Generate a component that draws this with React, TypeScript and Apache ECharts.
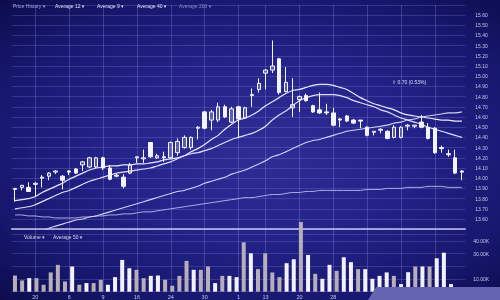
import React, { useEffect, useRef } from "react";
import * as echarts from "echarts";

// [open, close, low, high]
const candles: number[][] = [
  [13.89, 13.9, 13.77, 13.9],
  [13.91, 13.93, 13.88, 13.93],
  [13.91, 13.87, 13.87, 13.96],
  [13.94, 13.95, 13.82, 13.96],
  [14.0, 14.01, 13.91, 14.03],
  [14.02, 14.05, 13.98, 14.06],
  [14.06, 14.07, 14.04, 14.08],
  [14.02, 13.98, 13.89, 14.03],
  [14.07, 14.06, 14.03, 14.08],
  [14.09, 14.05, 14.04, 14.1],
  [14.13, 14.16, 14.07, 14.17],
  [14.11, 14.2, 14.1, 14.21],
  [14.11, 14.2, 14.1, 14.21],
  [14.2, 14.1, 14.08, 14.21],
  [14.1, 13.99, 13.98, 14.13],
  [14.03, 14.02, 14.01, 14.04],
  [14.01, 13.92, 13.9, 14.04],
  [14.05, 14.13, 14.04, 14.15],
  [14.2, 14.21, 14.15, 14.21],
  [14.19, 14.2, 14.15, 14.28],
  [14.35, 14.21, 14.2, 14.35],
  [14.2, 14.22, 14.19, 14.24],
  [14.21, 14.2, 14.16, 14.26],
  [14.2, 14.35, 14.19, 14.36],
  [14.25, 14.36, 14.22, 14.39],
  [14.3, 14.4, 14.29, 14.42],
  [14.3, 14.4, 14.28, 14.41],
  [14.49, 14.5, 14.38, 14.51],
  [14.65, 14.49, 14.48, 14.66],
  [14.57, 14.65, 14.47, 14.67],
  [14.57, 14.7, 14.55, 14.74],
  [14.7, 14.6, 14.59, 14.72],
  [14.55, 14.68, 14.54, 14.7],
  [14.7, 14.58, 14.4, 14.71],
  [14.59, 14.69, 14.58, 14.7],
  [14.81, 14.82, 14.7, 14.88],
  [14.87, 14.93, 14.84, 14.98],
  [15.03, 15.06, 14.87, 15.07],
  [15.06, 15.1, 15.03, 15.35],
  [15.17, 14.84, 14.82, 15.18],
  [14.85, 14.94, 14.84, 15.09],
  [14.69, 14.72, 14.6, 14.98],
  [14.77, 14.8, 14.65, 14.81],
  [14.81, 14.76, 14.75, 14.83],
  [14.71, 14.65, 14.64, 14.72],
  [14.67, 14.64, 14.63, 14.84],
  [14.65, 14.64, 14.62, 14.73],
  [14.64, 14.52, 14.51, 14.69],
  [14.58, 14.57, 14.5, 14.59],
  [14.61, 14.56, 14.55, 14.62],
  [14.57, 14.54, 14.53, 14.58],
  [14.57, 14.56, 14.49, 14.57],
  [14.5, 14.42, 14.41, 14.51],
  [14.45, 14.46, 14.42, 14.46],
  [14.47, 14.48, 14.44, 14.49],
  [14.46, 14.39, 14.38, 14.47],
  [14.4, 14.5, 14.39, 14.52],
  [14.4, 14.5, 14.39, 14.51],
  [14.51, 14.52, 14.47, 14.53],
  [14.51, 14.52, 14.49, 14.52],
  [14.55, 14.5, 14.49, 14.62],
  [14.5, 14.39, 14.38, 14.54],
  [14.49, 14.25, 14.24, 14.5],
  [14.3, 14.29, 14.25, 14.32],
  [14.24, 14.23, 14.21, 14.28],
  [14.2, 14.05, 14.04, 14.28],
  [14.07, 14.06, 13.98, 14.08],
];

const average9 = [
  13.78, 13.79, 13.8, 13.82, 13.86, 13.89, 13.92, 13.95, 13.99, 14.02,
  14.05, 14.08, 14.1, 14.11, 14.12, 14.12, 14.13, 14.13, 14.14, 14.14,
  14.15, 14.16, 14.18, 14.19, 14.2, 14.22, 14.26, 14.29, 14.33, 14.38,
  14.42, 14.48, 14.53, 14.57, 14.59, 14.62, 14.66, 14.71, 14.75, 14.79,
  14.83, 14.86, 14.87, 14.89, 14.91, 14.92, 14.92, 14.91, 14.89, 14.87,
  14.83, 14.79, 14.76, 14.73, 14.71, 14.69, 14.67, 14.64, 14.62, 14.61,
  14.6, 14.59, 14.58, 14.57, 14.57, 14.56, 14.56,
];

const average12 = [
  13.7, 13.71, 13.72, 13.74, 13.77, 13.8, 13.83, 13.86, 13.88, 13.91,
  13.94, 13.97, 13.99, 14.01, 14.03, 14.05, 14.06, 14.07, 14.08, 14.09,
  14.1, 14.12, 14.14, 14.16, 14.19, 14.22, 14.24, 14.25, 14.27, 14.29,
  14.32, 14.35, 14.38, 14.4, 14.42, 14.44, 14.47, 14.51, 14.57, 14.62,
  14.66, 14.71, 14.76, 14.79, 14.81, 14.82, 14.82, 14.82, 14.81, 14.79,
  14.76, 14.74, 14.72, 14.7, 14.67, 14.65, 14.62, 14.59, 14.57, 14.55,
  14.53, 14.5, 14.48, 14.46, 14.44, 14.42, 14.4,
];

const average40 = [
  null, null, null, null, 13.48, 13.51, 13.53, 13.55, 13.57, 13.59,
  13.6, 13.62, 13.63, 13.65, 13.67, 13.69, 13.71, 13.73, 13.75, 13.77,
  13.79, 13.81, 13.83, 13.85, 13.87, 13.88, 13.9, 13.92, 13.95, 13.97,
  13.99, 14.01, 14.04, 14.06, 14.08, 14.11, 14.14, 14.17, 14.21, 14.23,
  14.26, 14.29, 14.32, 14.35, 14.37, 14.38, 14.4, 14.42, 14.44, 14.46,
  14.47, 14.48, 14.49, 14.5, 14.51, 14.52, 14.54, 14.55, 14.57, 14.58,
  14.6, 14.61, 14.62, 14.63, 14.64, 14.64, 14.65,
];

const average200 = [
  13.64, 13.64, 13.63, 13.63, 13.62, 13.62, 13.61, 13.61, 13.61, 13.61,
  13.62, 13.62, 13.63, 13.63, 13.64, 13.64, 13.65, 13.65, 13.66, 13.67,
  13.67, 13.68, 13.69, 13.7, 13.71, 13.72, 13.73, 13.74, 13.75, 13.76,
  13.77, 13.78, 13.79, 13.8, 13.81, 13.81, 13.82, 13.83, 13.84, 13.84,
  13.85, 13.86, 13.86, 13.87, 13.87, 13.88, 13.88, 13.88, 13.88, 13.88,
  13.88, 13.88, 13.89, 13.89, 13.89, 13.9, 13.9, 13.9, 13.91, 13.91,
  13.91, 13.92, 13.92, 13.92, 13.91, 13.91, 13.91,
];

const volumes = [
  12800, 8900, 10700, 10700, 5500, 15200, 21200, 8100, 19900, 5500,
  6800, 6800, 9400, 5500, 11500, 25100, 18600, 17300, 10700, 12500,
  12800, 9400, 4700, 12500, 24300, 17300, 17300, 19900, 6800, 12500,
  12500, 11500, 39000, 30300, 17800, 30300, 15200, 11500, 22500, 25600,
  55000, 29000, 14100, 10200, 21200, 16500, 27200, 23300, 17800, 17800,
  10200, 12500, 15200, 12500, 6000, 15400, 19900, 19900, 19900, 26400,
  30800, 6000,
];
// 1 = bright bar, 0 = grey bar
const volumeTone = [
  0, 0, 1, 0, 0, 0, 0, 0, 1, 0,
  1, 0, 0, 1, 1, 1, 1, 0, 0, 1,
  1, 0, 0, 0, 0, 1, 0, 0, 1, 0,
  1, 1, 0, 1, 0, 0, 0, 0, 1, 1,
  0, 1, 0, 1, 1, 0, 1, 1, 0, 1,
  1, 1, 1, 0, 1, 1, 0, 1, 0, 1,
  1, 1,
];

const dateTickIndex = [3, 8, 13, 18, 23, 28, 33, 37, 42, 47, 52, 57, 62];
const dateTickText = ["20", "6", "9", "16", "24", "30", "1", "13", "20", "28"];

const legendItems = ["Price History", "Average 12", "Average 9", "Average 40", "Average 200"];
const volumeLegendItems = ["Volume", "Average 50"];
const lastPrice = 14.15;
const lastVolume = 20260;
const changeText = "0.70 (0.53%)";

const FONT = "'Liberation Sans', Arial, 'DejaVu Sans', sans-serif";
const LABEL = "#c4c4ee";

export default function App() {
  const ref = useRef<HTMLDivElement>(null);

  useEffect(() => {
    if (!ref.current) return;
    const chart = echarts.init(ref.current, undefined, { renderer: "svg" });
    const candleDays = candles.map((_, i) => String(i));
    const volumeDays = volumes.map((_, i) => String(i));
    const gridLine = { color: "rgba(150,150,235,0.24)", width: 1 };

    const legendX = [13, 55, 97, 137, 179];
    const legendColors = ["#a8a8dc", "#e4e4ff", "#e4e4ff", "#e4e4ff", "#8a8ac8"];
    const volLegendX = [24, 53];

    const graphic: any[] = [];
    legendItems.forEach((t, i) => {
      graphic.push({
        type: "text",
        x: legendX[i],
        y: 6,
        silent: true,
        style: { text: t + " \u25BE", fill: legendColors[i], font: `5px ${FONT}`, verticalAlign: "middle" },
      });
    });
    volumeLegendItems.forEach((t, i) => {
      graphic.push({
        type: "text",
        x: volLegendX[i],
        y: 237,
        silent: true,
        style: { text: t + " \u25BE", fill: "#d8d8fa", font: `5px ${FONT}`, verticalAlign: "middle" },
      });
    });
    graphic.push({
      type: "text",
      x: 392,
      y: 82,
      silent: true,
      style: { text: "\u21E7 " + changeText, fill: "#dcdcff", font: `5px ${FONT}`, verticalAlign: "middle" },
    });
    graphic.push({
      type: "polygon",
      z: 100,
      silent: true,
      shape: { points: [[368, 300], [376, 287], [500, 287], [500, 300]] },
      style: { fill: "#6464b2" },
    });

    const lineSeries = (name: string, data: any[], color: string, width: number) => ({
      name,
      type: "line",
      xAxisIndex: 0,
      yAxisIndex: 0,
      data,
      symbol: "none",
      smooth: 0.3,
      lineStyle: { color, width },
      z: 3,
    });

    chart.setOption({
      animation: false,
      backgroundColor: "transparent",
      textStyle: { fontFamily: FONT },
      grid: [
        { left: 11.6, right: 34.7, top: 4.8, bottom: 70.8, outerBoundsMode: "none" },
        { left: 11.4, right: 45.4, top: 234.7, bottom: 8.3, outerBoundsMode: "none" },
        { left: 15, right: 38, top: 4.8, bottom: 8.3, outerBoundsMode: "none" },
        { left: 11.6, right: 34.7, top: 234.7, bottom: 8.3, outerBoundsMode: "none" },
      ],
      xAxis: [
        {
          type: "category",
          gridIndex: 0,
          data: candleDays,
          boundaryGap: true,
          axisLine: { show: true, lineStyle: { color: "#c6c6f2", width: 1.5 } },
          axisTick: { show: false },
          axisLabel: { show: false },
          splitLine: { show: false },
        },
        { type: "category", gridIndex: 1, data: volumeDays, show: false },
        {
          type: "category",
          gridIndex: 2,
          data: candleDays,
          boundaryGap: false,
          axisLine: { show: false },
          axisTick: { show: false },
          axisLabel: {
            interval: (i: number) => {
              const k = dateTickIndex.indexOf(i);
              return k > -1 && k < dateTickText.length;
            },
            formatter: (_v: string, i: number) => dateTickText[dateTickIndex.indexOf(i)] ?? "",
            fontSize: 5.5,
            color: LABEL,
            margin: 2,
          },
          splitLine: {
            show: true,
            interval: (i: number) => dateTickIndex.indexOf(i) > -1,
            lineStyle: { color: "rgba(150,150,235,0.3)", width: 1 },
          },
        },
        { type: "category", gridIndex: 3, data: candleDays, show: false },
      ],
      yAxis: [
        {
          type: "value",
          gridIndex: 0,
          position: "right",
          min: 13.5,
          max: 15.7,
          interval: 0.1,
          axisLine: { show: false },
          axisTick: { show: false },
          axisLabel: {
            margin: 10,
            fontSize: 5,
            color: LABEL,
            formatter: (v: number) => v.toFixed(2),
            showMinLabel: false,
            showMaxLabel: false,
          },
          splitLine: { show: true, lineStyle: gridLine },
        },
        { type: "value", gridIndex: 1, min: 0, max: 45000, show: false },
        { type: "value", gridIndex: 2, min: 0, max: 1, show: false },
        {
          type: "value",
          gridIndex: 3,
          position: "right",
          min: 0,
          max: 45000,
          interval: 10000,
          axisLine: { show: false },
          axisTick: { show: false },
          axisLabel: {
            margin: 8,
            fontSize: 5,
            color: LABEL,
            // the boxed last-volume label takes the place of the tick it covers
            formatter: (v: number) =>
              v === 0 || Math.abs(v - lastVolume) < 4000 ? "" : (v / 1000).toFixed(2) + "K",
            showMinLabel: false,
            showMaxLabel: false,
          },
          splitLine: { show: true, lineStyle: gridLine },
        },
      ],
      series: [
        lineSeries("Average 200", average200, "#aeaee6", 1),
        lineSeries("Average 40", average40, "#cfcff8", 1.1),
        lineSeries("Average 12", average12, "#dedeff", 1.2),
        lineSeries("Average 9", average9, "#e6e6ff", 1.2),
        {
          name: "Price History",
          type: "candlestick",
          xAxisIndex: 0,
          yAxisIndex: 0,
          data: candles,
          barWidth: 4,
          z: 4,
          itemStyle: {
            color: "rgba(190,190,235,0.35)",
            color0: "#f4f4ff",
            borderColor: "#f4f4ff",
            borderColor0: "#f4f4ff",
            borderWidth: 1,
          },
          markLine: {
            silent: true,
            symbol: "none",
            lineStyle: { opacity: 0 },
            data: [{ yAxis: lastPrice }],
            label: {
              position: "end",
              distance: 8,
              formatter: () => lastPrice.toFixed(2),
              color: "#ffffff",
              fontSize: 5,
              borderColor: "#ffffff",
              borderWidth: 0.8,
              padding: [1, 2],
            },
          },
        },
        {
          name: "Volume",
          type: "bar",
          xAxisIndex: 1,
          yAxisIndex: 1,
          clip: false,
          barWidth: 4,
          data: volumes.map((v, i) => ({
            value: v,
            itemStyle: { color: volumeTone[i] ? "#f2f2ff" : "#b6aeb8" },
          })),
          markLine: {
            silent: true,
            symbol: "none",
            lineStyle: { opacity: 0 },
            data: [{ yAxis: lastVolume }],
            label: {
              position: "end",
              distance: 19,
              formatter: () => (lastVolume / 1000).toFixed(2) + "K",
              color: "#ffffff",
              fontSize: 5,
              borderColor: "#ffffff",
              borderWidth: 0.8,
              padding: [1, 2],
            },
          },
        },
      ],
      graphic,
    });
    return () => chart.dispose();
  }, []);

  return (
    <div
      ref={ref}
      style={{
        position: "fixed",
        left: 0,
        top: 0,
        width: 500,
        height: 300,
        background:
          "radial-gradient(ellipse at 52% 50%, #2e2e96 0%, #23238a 40%, #17176e 75%, #0c0c4c 100%)",
      }}
    />
  );
}
